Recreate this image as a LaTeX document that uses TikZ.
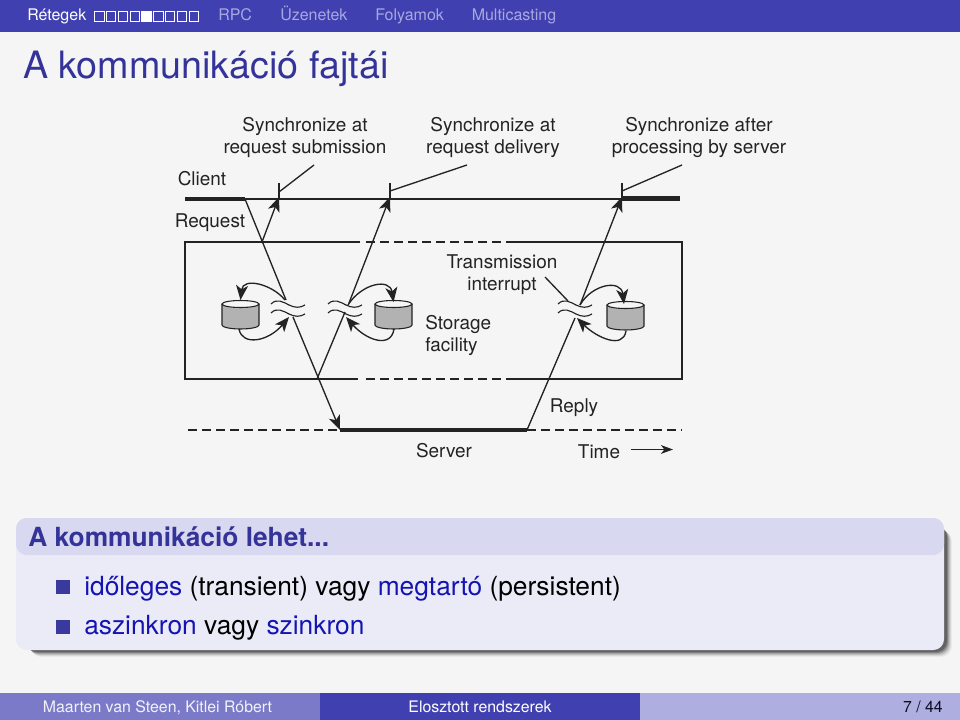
\documentclass[tikz,border=0pt]{standalone}
\usepackage{fontspec}
\setmainfont{TeX Gyre Heros}
\usetikzlibrary{arrows.meta}
\definecolor{pagebg}{RGB}{245,245,245}
\definecolor{barblue}{RGB}{64,64,176}
\definecolor{navdim}{RGB}{168,168,224}
\definecolor{footleft}{RGB}{122,122,200}
\definecolor{footright}{RGB}{174,174,224}
\definecolor{titleblue}{RGB}{51,51,153}
\definecolor{linkblue}{RGB}{20,20,178}
\definecolor{blockhead}{RGB}{216,216,240}
\definecolor{blockbody}{RGB}{235,235,247}
\definecolor{ink}{RGB}{35,35,35}
\definecolor{cylgrey}{RGB}{178,178,178}
\tikzset{
  lab/.style={font=\fontsize{14.2}{16.5}\selectfont,text=ink,align=center,inner sep=0pt},
  wire/.style={draw=ink,line width=1pt},
  bar/.style={draw=ink,line width=3.2pt},
  gap/.style={draw=ink,line width=1pt,dash pattern=on 6.5pt off 4pt},
  msg/.style={wire,-{Stealth[length=11pt,width=9pt,inset=3pt]}},
  nav/.style={font=\fontsize{12}{14}\selectfont,anchor=base west,inner sep=0pt},
  foot/.style={font=\fontsize{11.9}{14}\selectfont,anchor=base,inner sep=0pt},
  item/.style={font=\fontsize{19.75}{24}\selectfont,anchor=base west,inner sep=0pt,text=black},
  pics/storage/.style={code={
    \draw[ink,line width=0.8pt,fill=cylgrey] (-18.5,0) -- (-18.5,21) arc[start angle=180,end angle=0,x radius=18.5,y radius=4] -- (18.5,0);
    \draw[ink,line width=0.8pt,fill=pagebg] (0,0) ellipse [x radius=18.5,y radius=3.5];
  }},
  pics/wavebreak/.style={code={
    \foreach \dy in {0,9}
      \draw[ink,line width=0.85pt] (-17,\dy-4) .. controls (-11,\dy-10) and (-5,\dy-6) .. (1,\dy-3) .. controls (7,\dy) and (12,\dy) .. (17,\dy-3);
  }}
}
\begin{document}
\begin{tikzpicture}[x=0.75pt,y=-0.75pt]
  \useasboundingbox (0,0) rectangle (960,720);
  \fill[pagebg] (0,0) rectangle (960,720);
  \fill[barblue] (0,0) rectangle (960,32);
  \node[nav,text=white] (navlayers) at (27,21) {Rétegek};
  \foreach \k in {0,...,8}
    \draw[white,line width=0.5pt] (94.5+\k*11.8,11.5) rectangle ++(9.5,9.5);
  \fill[white] (141.7,11.5) rectangle ++(9.5,9.5);
  \node[nav,text=navdim] (navrpc) at (218,21) {RPC};
  \node[nav,text=navdim] (navmsg) at (280,21) {Üzenetek};
  \node[nav,text=navdim] (navstream) at (375,21) {Folyamok};
  \node[nav,text=navdim] (navmulti) at (471.5,21) {Multicasting};
  \node[font=\fontsize{28.25}{32}\selectfont,anchor=base west,inner sep=0pt,text=titleblue] (frametitle) at (23,79) {A kommunikáció fajtái};

  \coordinate (cbarl) at (185,199);
  \coordinate (cbarr) at (245,199);
  \coordinate (tick1) at (279,199);
  \coordinate (tick2) at (390,199);
  \coordinate (tick3) at (622,199);
  \coordinate (cend) at (680,198.5);
  \coordinate (sstart) at (340,430);
  \coordinate (send) at (527,430);
  \draw[bar] (cbarl) -- (cbarr);
  \draw[bar] (622,198.5) -- (cend);
  \draw[wire] (cbarr) -- (tick3);
  \foreach \t in {tick1,tick2,tick3}
    \draw[wire,line width=1.3pt] (\t) -- ++(0,-16);
  \draw[wire] (279,192) -- (314,165);
  \draw[wire] (390,191) -- (467,165);
  \draw[wire] (622,191) -- (682,165);
  \node[lab] (syncsub) at (305,137.5) {Synchronize at\\request submission};
  \node[lab] (syncdel) at (493,137.5) {Synchronize at\\request delivery};
  \node[lab] (syncproc) at (699,137.5) {Synchronize after\\processing by server};
  \node[lab] (client) at (202,179) {Client};
  \node[lab] (request) at (210,223) {Request};

  \draw[wire] (360,242) -- (185,242) -- (185,379) -- (358,379);
  \draw[wire] (510,242) -- (682,242) -- (682,379) -- (507,379);
  \draw[gap] (366,242) -- (510,242);
  \draw[gap] (366,379) -- (507,379);

  \draw[wire] (cbarr) -- (286,300);
  \draw[msg] (293,317) -- (sstart);
  \draw[msg] (262,242) -- ([yshift=1.5pt]tick1);
  \draw[wire] (317,379) -- (345,312);
  \draw[msg] (349,303) -- ([yshift=1.5pt]tick2);
  \draw[wire] (send) -- (575,318);
  \draw[msg] (580,305) -- ([yshift=1.5pt]tick3);

  \pic at (288,308) {wavebreak};
  \pic at (345,308) {wavebreak};
  \pic at (575,308) {wavebreak};
  \pic at (240.5,304) {storage};
  \pic at (393.5,304) {storage};
  \pic at (625.5,305) {storage};
  \draw[msg] (285,300) .. controls (272,284) and (243,277) .. (240.5,300);
  \draw[msg] (239,329) .. controls (242,346) and (268,342) .. (289,317);
  \draw[msg] (348,305) .. controls (362,283) and (390,278) .. (393.5,302);
  \draw[msg] (394,329) .. controls (391,349) and (366,340) .. (346,317);
  \draw[msg] (580,305) .. controls (592,284) and (621,279) .. (624,304);
  \draw[msg] (626,331) .. controls (623,350) and (596,337) .. (577,318);
  \draw[wire] (545,277) -- (568,301);
  \node[lab] (interrupt) at (502,275) {Transmission\\interrupt};
  \node[lab,align=left,anchor=west] (storage) at (425,335) {Storage\\facility};

  \draw[gap] (188,430) -- (sstart);
  \draw[gap] (send) -- (682,430);
  \draw[bar] (sstart) -- (send);
  \node[lab] (reply) at (574,408) {Reply};
  \node[lab] (server) at (444,451) {Server};
  \node[lab] (timelab) at (599,452) {Time};
  \coordinate (timeend) at (673,449.5);
  \draw[wire,-{Stealth[length=9pt,width=6.5pt,inset=2.5pt]}] (631,449.5) -- (timeend);

  \foreach \o/\a in {11/0.04,10/0.07,9/0.1,8/0.14,7/0.2,6/0.25}
    \fill[black,opacity=\a,rounded corners=8pt] (16+\o+4,518+\o+2) rectangle (944+\o-3,650+\o-4);
  \fill[blockbody,rounded corners=8pt] (16,518) rectangle (944,650);
  \fill[blockhead,rounded corners=8pt] (16,555) -- (16,518) -- (944,518) -- (944,555) -- cycle;
  \node[font=\fontsize{19.75}{24}\selectfont\bfseries,anchor=base west,inner sep=0pt,text=titleblue] (blocktitle) at (28,546) {A kommunikáció lehet...};
  \fill[barblue!90!black] (56,580) rectangle ++(13.5,14);
  \fill[barblue!90!black] (56,620) rectangle ++(13.5,14);
  \node[item] (item1) at (84,595) {\textcolor{linkblue}{időleges} (transient) vagy \textcolor{linkblue}{megtartó} (persistent)};
  \node[item] (item2) at (84,634) {\textcolor{linkblue}{aszinkron} vagy \textcolor{linkblue}{szinkron}};

  \fill[footleft] (0,693) rectangle (320,720);
  \fill[barblue] (320,693) rectangle (640,720);
  \fill[footright] (640,693) rectangle (960,720);
  \node[foot,text=white!90!footleft] (footauthor) at (157.5,712) {Maarten van Steen, Kitlei Róbert};
  \node[foot,text=white] (footcourse) at (480,712) {Elosztott rendszerek};
  \node[foot,text=black!80!barblue,anchor=base east] (footpage) at (943,712) {7 / 44};
\end{tikzpicture}
\end{document}
